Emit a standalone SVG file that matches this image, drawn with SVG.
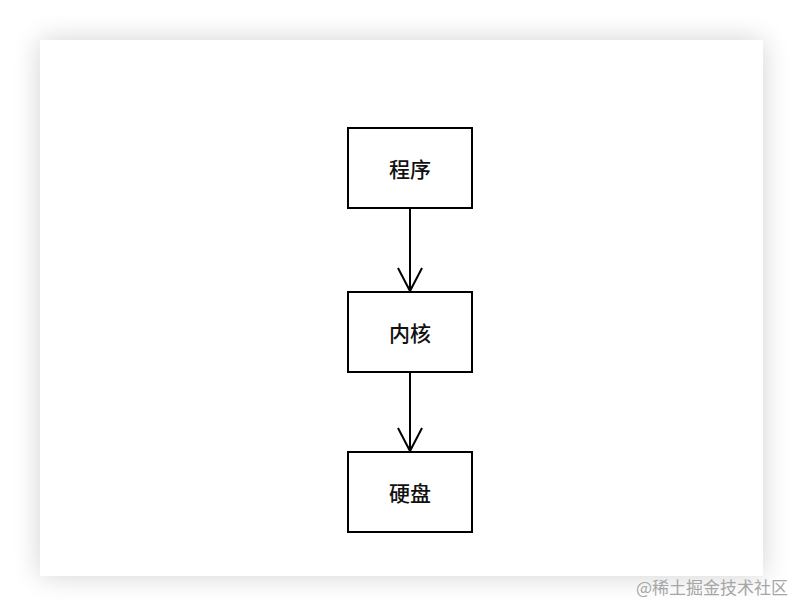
<svg xmlns="http://www.w3.org/2000/svg" width="804" height="616" viewBox="0 0 804 616">
<style>
.node rect{fill:#fff;stroke:#000;stroke-width:2}
.node text{font-family:"Noto Sans CJK SC","Noto Sans",sans-serif;font-size:21px;font-weight:500;fill:#111;text-anchor:middle;dominant-baseline:central}
.edge{stroke:#000;stroke-width:2;fill:none}
.wm{font-family:"Noto Sans CJK SC",sans-serif;font-size:17px;fill:#a6a6a6}
</style>
<defs>
<filter id="sh" x="-10%" y="-10%" width="120%" height="120%">
<feGaussianBlur in="SourceAlpha" stdDeviation="14"/>
<feComponentTransfer><feFuncA type="linear" slope="0.18"/></feComponentTransfer>
<feMerge><feMergeNode/><feMergeNode in="SourceGraphic"/></feMerge>
</filter>
</defs>
<rect width="804" height="616" fill="#fff"/>
<rect x="40" y="40" width="723" height="536" fill="#fff" filter="url(#sh)"/>
<g id="connectors">
<path class="edge" d="M410 208V291"/>
<path class="edge" d="M398 268L410 291L422 268"/>
<path class="edge" d="M410 372V451"/>
<path class="edge" d="M398 428L410 451L422 428"/>
</g>
<g id="n1" class="node"><rect x="348" y="128" width="124" height="80"/><text x="410" y="168">程序</text></g>
<g id="n2" class="node"><rect x="348" y="292" width="124" height="80"/><text x="410" y="332">内核</text></g>
<g id="n3" class="node"><rect x="348" y="452" width="124" height="80"/><text x="410" y="492">硬盘</text></g>
<text class="wm" x="636" y="594">@稀土掘金技术社区</text>
</svg>
